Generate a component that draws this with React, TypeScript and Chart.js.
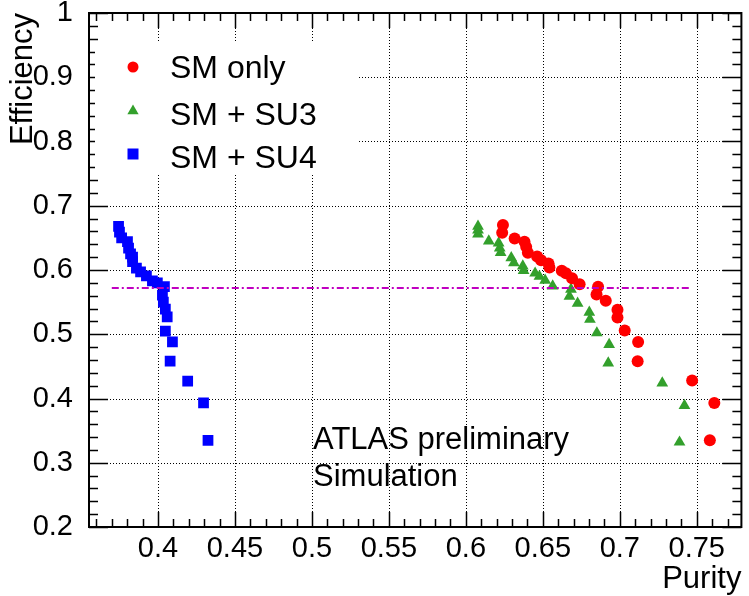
import React, { useEffect, useRef } from 'react';
import { Chart, registerables } from 'chart.js';

Chart.register(...registerables);

// ---- axis definitions ----
const X_TICKS = [0.4, 0.45, 0.5, 0.55, 0.6, 0.65, 0.7, 0.75];
const Y_TICKS = [0.2, 0.3, 0.4, 0.5, 0.6, 0.7, 0.8, 0.9, 1.0];
const X_MIN = 0.3552;
const X_MAX = 0.779;
const Y_MIN = 0.2;
const Y_MAX = 1.0;

// ---- series: SM only ----
const SM_ONLY_PURITY = [0.6241, 0.6236, 0.6317, 0.6381, 0.6392, 0.6403, 0.6463, 0.6489, 0.6537, 0.6543, 0.6623, 0.665, 0.669, 0.6739, 0.6859, 0.6849, 0.6909, 0.6985, 0.6985, 0.7032, 0.7119, 0.7116, 0.747, 0.7614, 0.7585];
const SM_ONLY_EFF = [0.670, 0.658, 0.649, 0.644, 0.636, 0.627, 0.621, 0.615, 0.610, 0.604, 0.599, 0.595, 0.587, 0.578, 0.574, 0.562, 0.552, 0.538, 0.526, 0.506, 0.488, 0.458, 0.428, 0.393, 0.335];

// ---- series: SM + SU3 ----
const SU3_PURITY = [0.6079, 0.6079, 0.6079, 0.6149, 0.6213, 0.622, 0.6226, 0.6295, 0.6312, 0.637, 0.6375, 0.645, 0.6478, 0.6515, 0.6564, 0.6683, 0.6673, 0.6726, 0.6802, 0.6806, 0.6851, 0.6931, 0.6925, 0.7276, 0.742, 0.7388];
const SU3_EFF = [0.668, 0.662, 0.656, 0.645, 0.642, 0.634, 0.627, 0.619, 0.611, 0.606, 0.599, 0.595, 0.590, 0.584, 0.575, 0.570, 0.559, 0.548, 0.534, 0.523, 0.502, 0.484, 0.455, 0.424, 0.389, 0.332];

// ---- series: SM + SU4 ----
const SU4_PURITY = [0.3744, 0.375, 0.3764, 0.3802, 0.3809, 0.3822, 0.3835, 0.3835, 0.386, 0.3887, 0.3925, 0.3964, 0.3996, 0.4042, 0.4029, 0.4035, 0.4048, 0.406, 0.4048, 0.4094, 0.4079, 0.4193, 0.4296, 0.4325];
const SU4_EFF = [0.668, 0.659, 0.650, 0.644, 0.634, 0.625, 0.620, 0.613, 0.603, 0.597, 0.591, 0.583, 0.580, 0.574, 0.561, 0.550, 0.539, 0.527, 0.505, 0.488, 0.458, 0.427, 0.393, 0.335];

// ---- reference cut line ----
const CUT_PURITY = [0.370, 0.746];
const CUT_EFF = [0.572, 0.572];

// ---- text ----
const LEGEND_LABELS = ['SM only', 'SM + SU3', 'SM + SU4'];
const X_TITLE = 'Purity';
const Y_TITLE = 'Efficiency';
const NOTE_LINES = ['ATLAS preliminary', 'Simulation'];

const FONT = '"Liberation Sans", Arial, Helvetica, sans-serif';
const RED = '#ff0000';
const GREEN = '#33a02c';
const BLUE = '#0000ff';
const MAGENTA = '#c000c0';

const W = 749;
const H = 596;

const toPts = (xs: number[], ys: number[]) => xs.map((x, i) => ({ x, y: ys[i] }));

function drawMarker(ctx: CanvasRenderingContext2D, kind: string, x: number, y: number, color: string) {
  ctx.fillStyle = color;
  ctx.beginPath();
  if (kind === 'circle') {
    ctx.arc(x, y, 5.5, 0, Math.PI * 2);
  } else if (kind === 'triangle') {
    const r = 6.5;
    ctx.moveTo(x, y - r);
    ctx.lineTo(x + r * 0.866, y + r * 0.5);
    ctx.lineTo(x - r * 0.866, y + r * 0.5);
    ctx.closePath();
  } else {
    ctx.rect(x - 5.5, y - 5.5, 11, 11);
  }
  ctx.fill();
}

const rootStyle = {
  id: 'rootStyle',
  beforeDatasetsDraw(chart: any) {
    const { ctx, chartArea: a, scales } = chart;
    const xs = scales.x;
    const ys = scales.y;
    ctx.save();
    ctx.strokeStyle = '#000';
    ctx.lineWidth = 1;
    ctx.setLineDash([1, 2]);
    ctx.beginPath();
    for (const v of X_TICKS) {
      const px = Math.round(xs.getPixelForValue(v)) + 0.5;
      ctx.moveTo(px, a.top);
      ctx.lineTo(px, a.bottom);
    }
    for (const v of Y_TICKS) {
      if (v <= Y_MIN || v >= Y_MAX) continue;
      const py = Math.round(ys.getPixelForValue(v)) + 0.5;
      ctx.moveTo(a.left, py);
      ctx.lineTo(a.right, py);
    }
    ctx.stroke();
    ctx.restore();
  },
  afterDatasetsDraw(chart: any) {
    const { ctx, chartArea: a, scales } = chart;
    const xs = scales.x;
    const ys = scales.y;
    ctx.save();
    ctx.setLineDash([]);
    ctx.strokeStyle = '#000';

    // inward ticks
    ctx.lineWidth = 1.5;
    ctx.beginPath();
    for (let k = Math.ceil(X_MIN * 100 - 1e-6); k <= Math.floor(X_MAX * 100 + 1e-6); k++) {
      const v = k / 100;
      const major = X_TICKS.some((t) => Math.abs(t - v) < 1e-6);
      const len = major ? 15 : 8;
      const px = Math.round(xs.getPixelForValue(v)) + 0.5;
      ctx.moveTo(px, a.bottom);
      ctx.lineTo(px, a.bottom - len);
      ctx.moveTo(px, a.top);
      ctx.lineTo(px, a.top + len);
    }
    for (let k = Math.round(Y_MIN * 50); k <= Math.round(Y_MAX * 50); k++) {
      const v = k / 50;
      const major = Y_TICKS.some((t) => Math.abs(t - v) < 1e-6);
      const len = major ? 19 : 9;
      const py = Math.round(ys.getPixelForValue(v)) + 0.5;
      ctx.moveTo(a.left, py);
      ctx.lineTo(a.left + len, py);
      ctx.moveTo(a.right, py);
      ctx.lineTo(a.right - len, py);
    }
    ctx.stroke();

    // frame
    ctx.lineWidth = 2;
    ctx.strokeRect(a.left, a.top, a.right - a.left, a.bottom - a.top);

    // legend
    ctx.fillStyle = '#fff';
    ctx.fillRect(a.left + 6, 43, 262, 131);
    const kinds = ['circle', 'triangle', 'rect'];
    const colors = [RED, GREEN, BLUE];
    const markerY = [67, 111, 154];
    const baseY = [78, 125, 168];
    ctx.font = `32px ${FONT}`;
    ctx.textBaseline = 'alphabetic';
    ctx.textAlign = 'left';
    LEGEND_LABELS.forEach((lbl, i) => {
      drawMarker(ctx, kinds[i], 133, markerY[i], colors[i]);
      ctx.fillStyle = '#000';
      ctx.fillText(lbl, 170, baseY[i]);
    });

    // annotation
    ctx.fillStyle = '#000';
    ctx.font = `31px ${FONT}`;
    ctx.fillText(NOTE_LINES[0], 313, 449);
    ctx.fillText(NOTE_LINES[1], 313, 486);
    ctx.restore();
  },
};

export default function App() {
  const ref = useRef<HTMLCanvasElement | null>(null);

  useEffect(() => {
    if (!ref.current) return;
    const chart = new Chart(ref.current, {
      type: 'scatter',
      data: {
        datasets: [
          {
            label: 'cut',
            data: toPts(CUT_PURITY, CUT_EFF),
            showLine: true,
            borderColor: MAGENTA,
            borderWidth: 2,
            borderDash: [7, 3, 2, 3],
            pointRadius: 0,
            fill: false,
          } as any,
          {
            label: LEGEND_LABELS[0],
            data: toPts(SM_ONLY_PURITY, SM_ONLY_EFF),
            pointStyle: 'circle',
            pointRadius: 6,
            backgroundColor: RED,
            borderColor: RED,
            borderWidth: 0,
          },
          {
            label: LEGEND_LABELS[1],
            data: toPts(SU3_PURITY, SU3_EFF),
            pointStyle: 'triangle',
            pointRadius: 6.8,
            backgroundColor: GREEN,
            borderColor: GREEN,
            borderWidth: 0,
          },
          {
            label: LEGEND_LABELS[2],
            data: toPts(SU4_PURITY, SU4_EFF),
            pointStyle: 'rect',
            pointRadius: 7.6,
            backgroundColor: BLUE,
            borderColor: BLUE,
            borderWidth: 0,
          },
        ],
      },
      options: {
        animation: false,
        responsive: false,
        maintainAspectRatio: false,
        devicePixelRatio: 1,
        layout: { padding: { left: 0, right: 4, top: 13, bottom: 0 } },
        plugins: {
          legend: { display: false },
          tooltip: { enabled: false },
        },
        scales: {
          x: {
            type: 'linear',
            min: X_MIN,
            max: X_MAX,
            afterBuildTicks: (s: any) => {
              s.ticks = X_TICKS.map((v) => ({ value: v }));
            },
            afterFit: (s: any) => {
              s.height = H - 527;
              s.paddingLeft = 0;
              s.paddingRight = 0;
            },
            grid: { display: false, drawTicks: false },
            border: { display: false },
            ticks: {
              color: '#000',
              font: { family: FONT, size: 29 },
              padding: 5,
              maxRotation: 0,
              autoSkip: false,
              callback: (v: any) => String(Number(v)),
            },
            title: {
              display: true,
              text: X_TITLE,
              align: 'end',
              color: '#000',
              font: { family: FONT, size: 31, lineHeight: 1 },
              padding: { top: 0, bottom: 1 },
            },
          },
          y: {
            type: 'linear',
            min: Y_MIN,
            max: Y_MAX,
            afterBuildTicks: (s: any) => {
              s.ticks = Y_TICKS.map((v) => ({ value: v }));
            },
            afterFit: (s: any) => {
              s.width = 89;
              s.paddingTop = 0;
              s.paddingBottom = 0;
            },
            grid: { display: false, drawTicks: false },
            border: { display: false },
            ticks: {
              color: '#000',
              font: { family: FONT, size: 29 },
              padding: 16,
              autoSkip: false,
              callback: (v: any) => String(Number(v)),
            },
            title: {
              display: true,
              text: Y_TITLE,
              align: 'end',
              color: '#000',
              font: { family: FONT, size: 31, lineHeight: 1 },
              padding: { top: 8, bottom: 0 },
            },
          },
        },
      },
      plugins: [rootStyle],
    });
    return () => chart.destroy();
  }, []);

  return (
    <div style={{ position: 'fixed', left: 0, top: 0, width: W, height: H, background: '#fff' }}>
      <canvas ref={ref} width={W} height={H} style={{ display: 'block', width: W, height: H }} />
    </div>
  );
}
